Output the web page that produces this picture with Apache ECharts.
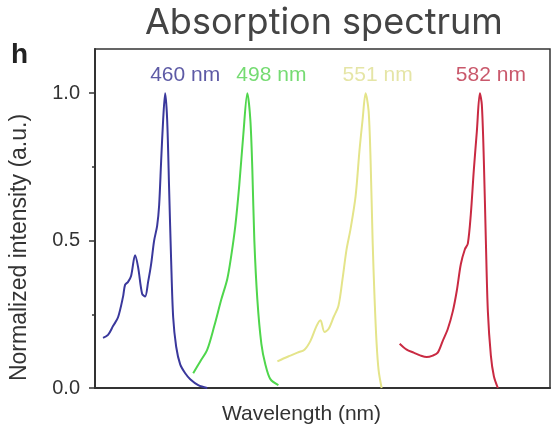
<!DOCTYPE html>
<html>
<head>
<meta charset="utf-8">
<script src="https://cdn.jsdelivr.net/npm/echarts@6/dist/echarts.min.js"></script>
<style>
  html, body { margin: 0; padding: 0; background: #fff; }
  #chart { width: 556px; height: 431px; }
</style>
</head>
<body>
<div id="chart"></div>
<script>
// x positions are in relative units along the wavelength axis (no tick labels in the source)
var blueX = [8, 13, 18, 23, 28, 30, 33, 36, 40, 43, 47, 50, 53, 56, 59, 62, 64, 66, 68, 70, 72, 74, 76, 78, 81, 85, 90, 95, 103, 112]
var blueY = [0.17, 0.18, 0.21, 0.24, 0.31, 0.35, 0.36, 0.38, 0.45, 0.41, 0.32, 0.31, 0.36, 0.42, 0.50, 0.55, 0.62, 0.77, 0.91, 1.0, 0.91, 0.67, 0.43, 0.24, 0.14, 0.08, 0.05, 0.03, 0.01, 0.0]

var greenX = [98, 105, 112, 119, 126, 132, 136, 140, 144, 148, 152, 155, 157, 159, 162, 166, 170, 175, 183]
var greenY = [0.05, 0.09, 0.13, 0.21, 0.30, 0.37, 0.45, 0.55, 0.69, 0.86, 1.0, 0.91, 0.74, 0.50, 0.30, 0.15, 0.08, 0.03, 0.01]

var yellowX = [182, 188, 195, 202, 209, 215, 221, 225, 229, 233, 238, 243, 247, 251, 255, 260, 264, 267, 270, 273, 275, 277, 279, 281, 283, 286]
var yellowY = [0.09, 0.10, 0.11, 0.12, 0.13, 0.16, 0.21, 0.23, 0.19, 0.20, 0.24, 0.28, 0.37, 0.47, 0.54, 0.65, 0.81, 0.91, 1.0, 0.94, 0.77, 0.50, 0.30, 0.15, 0.06, 0.0]

var redX = [304, 311, 318, 325, 331, 337, 342, 347, 352, 357, 361, 365, 369, 372, 375, 378, 381, 384, 386, 388, 390, 392, 395, 398, 402]
var redY = [0.15, 0.13, 0.12, 0.11, 0.105, 0.11, 0.12, 0.16, 0.20, 0.26, 0.33, 0.42, 0.47, 0.49, 0.59, 0.74, 0.87, 1.0, 0.96, 0.77, 0.50, 0.26, 0.11, 0.04, 0.0]

var peakLabels = ['460 nm', '498 nm', '551 nm', '582 nm']
var peakLabelX = [90, 176, 282, 395]
var peakLabelY = 1.061

var yMajorTicks = [0, 0.5, 1.0]
var yMinorTicks = [0.25, 0.75]

var colors = ['#3a389c', '#4fd64c', '#e4e48a', '#c92a42']
var labelColors = ['#34318f', '#52d24f', '#dede90', '#bc2e46']

function pairs(xs, ys) {
  return xs.map(function (x, i) { return [x, ys[i]] })
}

var curves = [[blueX, blueY], [greenX, greenY], [yellowX, yellowY], [redX, redY]]

var chart = echarts.init(document.getElementById('chart'))

var series = curves.map(function (c, i) {
  return {
    type: 'line',
    data: pairs(c[0], c[1]),
    smooth: 0.3,
    symbol: 'none',
    lineStyle: { color: colors[i], width: 2 },
    z: 3
  }
})

// peak names, placed as text at the top of each curve
series.push({
  type: 'scatter',
  symbolSize: 0,
  data: peakLabelX.map(function (x, i) {
    return {
      value: [x, peakLabelY],
      label: { color: labelColors[i] }
    }
  }),
  label: {
    show: true,
    position: 'inside',
    fontSize: 21,
    fontFamily: 'Liberation Sans',
    formatter: function (p) { return peakLabels[p.dataIndex] }
  },
  silent: true
})

chart.setOption({
  backgroundColor: '#fff',
  animation: false,
  title: {
    text: 'Absorption spectrum',
    left: 140,
    top: 0,
    textStyle: { fontSize: 36, fontWeight: 'normal', fontFamily: 'Inter', color: '#444' }
  },
  graphic: [{
    type: 'text',
    left: 11,
    top: 41,
    style: { text: 'h', fontSize: 28, fontWeight: 'bold', fontFamily: 'Liberation Sans', fill: '#222' }
  }],
  grid: {
    left: 95,
    right: 6,
    top: 49,
    bottom: 43,
    show: true,
    borderColor: '#333',
    borderWidth: 1.5,
    backgroundColor: 'transparent'
  },
  xAxis: {
    type: 'value',
    min: 0,
    max: 454,
    name: 'Wavelength (nm)',
    nameLocation: 'middle',
    nameGap: 16,
    nameTextStyle: { fontSize: 21, fontFamily: 'Liberation Sans', color: '#333', padding: [0, 42, 0, 0] },
    axisLine: { show: true, lineStyle: { color: '#333', width: 2 } },
    axisTick: { show: false },
    axisLabel: { show: false },
    splitLine: { show: false }
  },
  yAxis: [{
    type: 'value',
    min: 0,
    max: 1.15,
    name: 'Normalized intensity (a.u.)',
    nameLocation: 'middle',
    nameGap: 64,
    nameTextStyle: { fontSize: 23, fontFamily: 'Liberation Sans', color: '#333', padding: [0, 58, 0, 0] },
    axisLine: { show: true, lineStyle: { color: '#333', width: 2 } },
    axisTick: { show: true, length: 6, customValues: yMajorTicks, lineStyle: { color: '#333', width: 1.5 } },
    axisLabel: {
      customValues: yMajorTicks,
      margin: 15,
      fontSize: 20,
      fontFamily: 'Liberation Sans',
      color: '#333',
      formatter: function (v) { return v.toFixed(1) }
    },
    splitLine: { show: false }
  }, {
    type: 'value',
    position: 'left',
    min: 0,
    max: 1.15,
    axisLine: { show: false },
    axisTick: { show: true, length: 3, customValues: yMinorTicks, lineStyle: { color: '#333', width: 1.5 } },
    axisLabel: { show: false },
    splitLine: { show: false }
  }],
  series: series
})
</script>
</body>
</html>
